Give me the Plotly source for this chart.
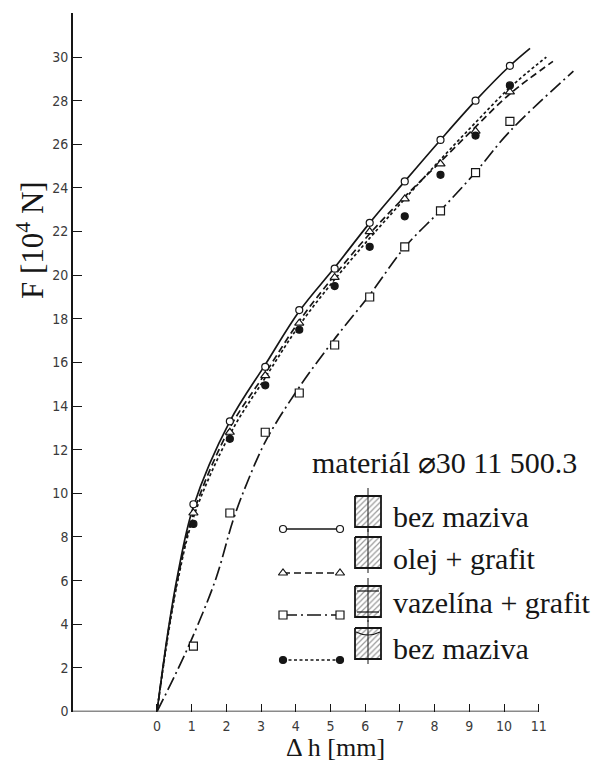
import plotly.graph_objects as go

# ---------------- data ----------------
x_pts = [1.05, 2.1, 3.12, 4.1, 5.12, 6.13, 7.14, 8.17, 9.18, 10.17]
F_bez = [9.5, 13.3, 15.8, 18.4, 20.3, 22.4, 24.3, 26.2, 28.0, 29.6]
F_olej = [9.1, 12.8, 15.4, 17.8, 19.9, 22.0, 23.5, 25.1, 26.6, 28.4]
F_vaz = [3.0, 9.1, 12.8, 14.6, 16.8, 19.0, 21.3, 22.95, 24.7, 27.05]
F_bez2 = [8.6, 12.5, 14.95, 17.5, 19.5, 21.3, 22.7, 24.6, 26.4, 28.7]

# fitted curves as drawn in the picture
cx_bez = [0, 0.33, 0.6, 1.05, 2.1, 3.12, 4.1, 5.12, 6.13, 7.14, 8.17, 9.18, 10.17, 10.75]
cy_bez = [0, 3.8, 6.3, 9.4, 13.3, 15.9, 18.35, 20.35, 22.4, 24.3, 26.2, 28.0, 29.6, 30.4]
cx_olej = [0, 0.33, 0.6, 1.05, 2.1, 3.12, 4.1, 5.12, 6.13, 7.14, 8.17, 9.18, 10.2, 11.41]
cy_olej = [0, 3.7, 6.1, 9.1, 13.0, 15.5, 17.9, 20.0, 21.9, 23.6, 25.2, 26.8, 28.35, 29.8]
cx_vaz = [0, 0.5, 1.05, 1.7, 2.2, 2.6, 3.15, 4.05, 5.08, 6.13, 7.15, 8.17, 9.17, 10.17, 12.0]
cy_vaz = [0, 1.6, 3.5, 6.1, 8.8, 10.5, 12.45, 14.75, 17.0, 19.1, 21.3, 22.97, 24.7, 26.6, 29.35]
cx_bez2 = [0, 0.33, 0.6, 1.05, 2.1, 3.12, 4.1, 5.12, 6.13, 7.14, 8.17, 9.18, 10.17, 11.22]
cy_bez2 = [0, 3.6, 6.0, 8.9, 12.7, 15.3, 17.7, 19.8, 21.7, 23.5, 25.3, 27.0, 28.6, 30.0]

x_ticks = list(range(0, 12))
y_ticks = list(range(0, 31, 2))

labels = ["bez maziva", "olej + grafit", "vazelína + grafit", "bez maziva"]
title_text = "materiál ⌀30 11 500.3"

# ---------------- styles ----------------
W, H = 598, 763
INK = "#161616"
SERIF = "Liberation Serif, Times New Roman, serif"
TICKFONT = dict(family="DejaVu Sans Condensed, Liberation Sans Narrow, sans-serif", size=14, color="#3a3a3a")

series = [
    dict(cx=cx_bez, cy=cy_bez, y=F_bez, dash="solid", sym="circle", fill="white", size=7),
    dict(cx=cx_olej, cy=cy_olej, y=F_olej, dash="7px,4px", sym="triangle-up", fill="white", size=8),
    dict(cx=cx_vaz, cy=cy_vaz, y=F_vaz, dash="14px,4px,2px,4px", sym="square", fill="white", size=8),
    dict(cx=cx_bez2, cy=cy_bez2, y=F_bez2, dash="3px,2.5px", sym="circle", fill=INK, size=7),
]

fig = go.Figure()

for s in series:
    fig.add_trace(go.Scatter(x=s["cx"], y=s["cy"], mode="lines",
                             line=dict(color=INK, width=1.7, dash=s["dash"], shape="spline", smoothing=1.0),
                             showlegend=False, hoverinfo="skip", cliponaxis=True))
for s in series:
    fig.add_trace(go.Scatter(x=x_pts, y=s["y"], mode="markers",
                             marker=dict(symbol=s["sym"], size=s["size"], color=s["fill"],
                                         line=dict(color=INK, width=1.2)),
                             showlegend=False))

# ---------------- custom legend (pixel coords on a full-page helper axis) ----------------
row_line_y = [529, 573, 615, 660]
row_text_y = [516, 558, 602, 648]
box_tops = [496, 537, 586, 628]
box_h = 31
line_x0, line_x1 = 283, 340
box_x0, box_x1 = 355, 381
text_x = 391

for i, s in enumerate(series):
    fig.add_trace(go.Scatter(x=[line_x0, line_x1], y=[row_line_y[i]] * 2, mode="lines+markers",
                             xaxis="x2", yaxis="y2",
                             line=dict(color=INK, width=1.4, dash=s["dash"]),
                             marker=dict(symbol=s["sym"], size=s["size"], color=s["fill"],
                                         line=dict(color=INK, width=1.2)),
                             showlegend=False, hoverinfo="skip"))
    t, b = box_tops[i], box_tops[i] + box_h
    fig.add_trace(go.Scatter(x=[box_x0, box_x1, box_x1, box_x0, box_x0], y=[t, t, b, b, t],
                             mode="lines", fill="toself", xaxis="x2", yaxis="y2",
                             fillcolor="white",
                             fillpattern=dict(shape="/", size=4, solidity=0.3, fgcolor="#333", bgcolor="white"),
                             line=dict(color=INK, width=1.8), showlegend=False, hoverinfo="skip"))

shapes = []
# x axis line from the y axis to tick 11
shapes.append(dict(type="line", xref="x", yref="y", x0=-2.42, x1=11, y0=0, y1=0,
                   line=dict(color=INK, width=1.6)))
cxm = (box_x0 + box_x1) / 2
for i in range(4):
    t, b = box_tops[i], box_tops[i] + box_h
    shapes.append(dict(type="line", xref="x2", yref="y2", x0=cxm, x1=cxm, y0=t - 8, y1=b + 5,
                       line=dict(color=INK, width=1)))
# inner marks in boxes 3 and 4
t3, b3 = box_tops[2], box_tops[2] + box_h
shapes.append(dict(type="line", xref="x2", yref="y2", x0=box_x0 + 2, x1=box_x1 - 2, y0=t3 + 5, y1=t3 + 5,
                   line=dict(color=INK, width=1.2)))
shapes.append(dict(type="line", xref="x2", yref="y2", x0=box_x0 + 2, x1=box_x1 - 2, y0=b3 - 5, y1=b3 - 5,
                   line=dict(color=INK, width=1.2)))
t4 = box_tops[3]
shapes.append(dict(type="path", xref="x2", yref="y2",
                   path=f"M {box_x0+1},{t4+4} Q {cxm},{t4+10} {box_x1-1},{t4+4}",
                   line=dict(color=INK, width=1.2)))

annotations = []
for i, lab in enumerate(labels):
    annotations.append(dict(x=text_x, y=row_text_y[i], xref="x2", yref="y2", text=lab, showarrow=False,
                            xanchor="left", yanchor="middle", font=dict(family=SERIF, size=30, color=INK)))
annotations.append(dict(x=444, y=462, xref="x2", yref="y2", text=title_text, showarrow=False,
                        xanchor="center", yanchor="middle", font=dict(family=SERIF, size=30, color=INK)))
annotations.append(dict(x=30, y=240, xref="x2", yref="y2", text="F [10<sup>4</sup> N]", showarrow=False,
                        textangle=-90, xanchor="center", yanchor="middle",
                        font=dict(family=SERIF, size=31, color=INK)))
annotations.append(dict(x=335, y=747, xref="x2", yref="y2", text="Δ h [mm]", showarrow=False,
                        xanchor="center", yanchor="middle", font=dict(family=SERIF, size=26, color=INK)))

fig.update_layout(
    width=W, height=H, margin=dict(l=0, r=0, t=0, b=0),
    paper_bgcolor="white", plot_bgcolor="rgba(0,0,0,0)",
    showlegend=False,
    xaxis=dict(domain=[73 / W, 580 / W], range=[-2.42, 12.19], tickvals=x_ticks, ticks="inside",
               ticklen=8, tickwidth=1.2, tickcolor=INK, showline=False, showgrid=False, zeroline=False,
               tickfont=TICKFONT, ticklabelstandoff=4, automargin=False),
    yaxis=dict(domain=[(H - 711.5) / H, (H - 13) / H], range=[0, 32.02], tickvals=y_ticks, ticks="inside",
               ticklen=9, tickwidth=1.2, tickcolor=INK, showline=True, linecolor=INK, linewidth=1.6,
               showgrid=False, zeroline=False, tickfont=TICKFONT, automargin=False),
    xaxis2=dict(domain=[0, 1], range=[0, W], visible=False, anchor="y2"),
    yaxis2=dict(domain=[0, 1], range=[H, 0], visible=False, anchor="x2"),
    shapes=shapes, annotations=annotations,
)

fig.write_html("out.html", config={"displayModeBar": False},
               post_script="document.body.style.margin='0px';document.body.style.overflow='hidden';")
